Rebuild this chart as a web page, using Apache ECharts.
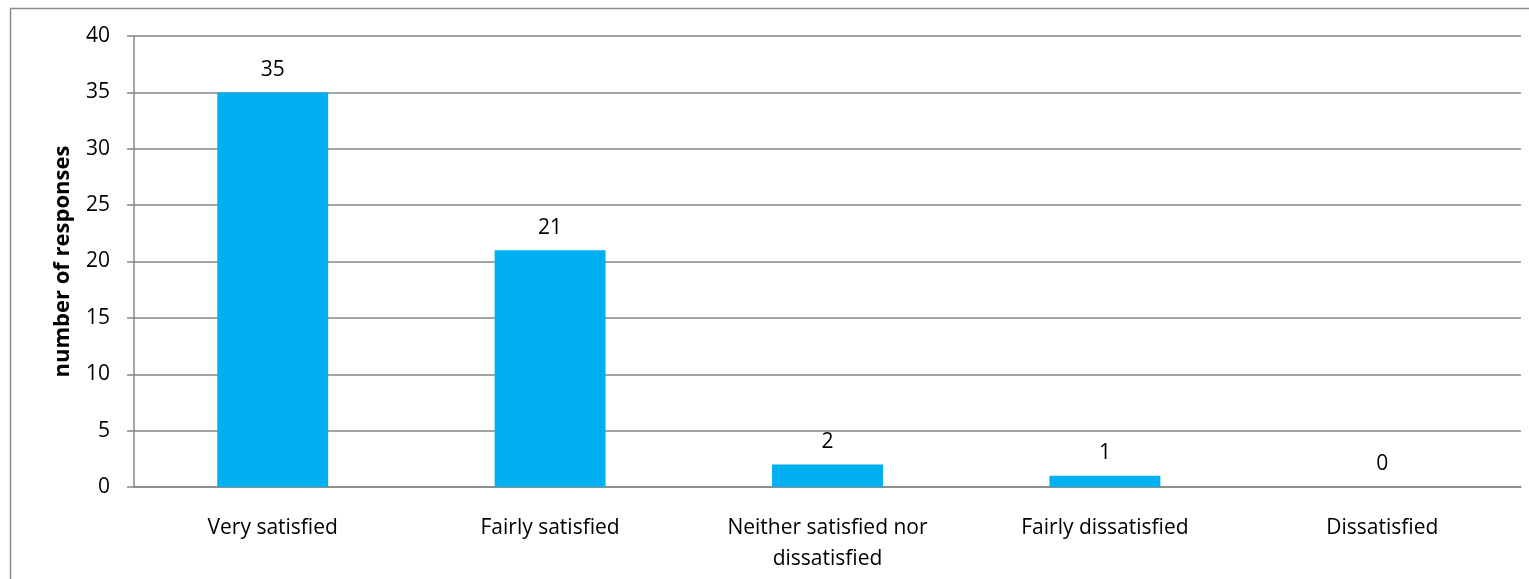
<!DOCTYPE html>
<html>
<head>
<meta charset="utf-8">
<style>
  html, body { margin: 0; padding: 0; background: #fff; }
  #chart { width: 1529px; height: 579px; }
</style>
<script src="https://cdn.jsdelivr.net/npm/echarts@6/dist/echarts.min.js"></script>
</head>
<body>
<div id="chart"></div>
<script>
// Survey satisfaction responses
const categories = [
  'Very satisfied',
  'Fairly satisfied',
  'Neither satisfied nor\ndissatisfied',
  'Fairly dissatisfied',
  'Dissatisfied'
];
const responses = [35, 21, 2, 1, 0];
const yTicks = { min: 0, max: 40, interval: 5 };
const yAxisTitle = 'number of responses';

const FONT = '"Open Sans", "Noto Sans", sans-serif';
const FS = 21;
const chart = echarts.init(document.getElementById('chart'), null, { renderer: 'canvas' });

chart.setOption({
  animation: false,
  backgroundColor: '#ffffff',
  graphic: [{
    type: 'rect',
    shape: { x: 10.5, y: 8.5, width: 1600, height: 700 },
    style: { fill: 'none', stroke: '#8c8c8c', lineWidth: 1.5 },
    silent: true
  }],
  grid: { left: 134, right: 8, top: 36, bottom: 92 },
  xAxis: {
    type: 'category',
    data: categories,
    axisLine: { lineStyle: { color: '#868686', width: 1.5 } },
    axisTick: { show: false },
    axisLabel: {
      color: '#000', fontFamily: FONT, fontSize: FS, margin: 26, lineHeight: 31,
      interval: 0
    }
  },
  yAxis: {
    type: 'value',
    min: yTicks.min, max: yTicks.max, interval: yTicks.interval,
    name: yAxisTitle,
    nameLocation: 'middle',
    nameGap: 60,
    nameTextStyle: { color: '#000', fontFamily: FONT, fontSize: 22, fontWeight: 'bold' },
    axisLine: { show: true, lineStyle: { color: '#868686', width: 1.5 } },
    axisTick: { show: true, length: 7, lineStyle: { color: '#868686', width: 1.5 } },
    axisLabel: { color: '#000', fontFamily: FONT, fontSize: FS, margin: 24 },
    splitLine: { lineStyle: { color: '#868686', width: 1.5 } }
  },
  series: [{
    type: 'bar',
    data: responses,
    barWidth: '40%',
    itemStyle: { color: '#00B0F0' },
    label: {
      show: true, position: 'top', distance: 12,
      color: '#000', fontFamily: FONT, fontSize: FS
    }
  }]
});
</script>
</body>
</html>
